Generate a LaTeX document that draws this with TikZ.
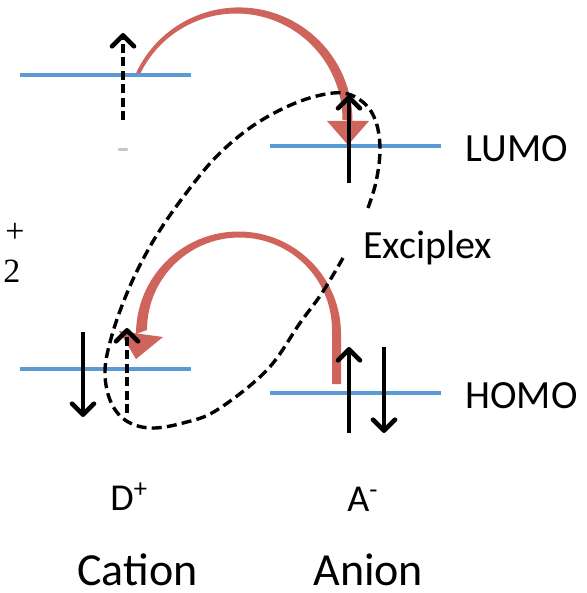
\documentclass[tikz,border=0pt]{standalone}
\usepackage{fontspec}
\setmainfont{Carlito}
\newfontfamily\timesfont{Liberation Serif}
\usepackage{tikz}
\usetikzlibrary{arrows.meta,calc}
\definecolor{levelblue}{RGB}{91,155,213}
\definecolor{ctred}{RGB}{207,100,92}

\begin{document}
\begin{tikzpicture}[x=0.5pt,y=-0.5pt,>={Straight Barb[length=5.5pt,width=11pt,round]},
  level/.style={levelblue,line width=2pt},
  spin/.style={line width=2.3pt,->},
  spindash/.style={spin,dash pattern=on 4.5pt off 2.2pt},
  exloop/.style={line width=1.7pt,dash pattern=on 5pt off 2.6pt},
  lbl/.style={inner sep=0pt,anchor=base west,font=\fontsize{20pt}{24pt}\selectfont},
  ionlbl/.style={lbl,font=\fontsize{19pt}{23pt}\selectfont},
  bigLbl/.style={lbl,font=\fontsize{23pt}{28pt}\selectfont}]
\useasboundingbox (0,0) rectangle (587,593);
% ---- charge-transfer arrows (tapered, red) ----
% upper: D LUMO -> A LUMO
\fill[ctred] (135.3,74.8) arc[start angle=-156,end angle=0,radius=113.5]
  -- (342.5,119.9) arc[start angle=0,end angle=-156,radius=106.4] -- cycle;
\fill[ctred] (327,121) -- (369,121) -- (348,145) -- cycle;
% lower: A HOMO -> D HOMO
\fill[ctred] (341,384) -- (341,334) arc[start angle=0,end angle=-180,radius=102.5]
  -- (147,330) arc[start angle=-180,end angle=0,radius=92.5] -- (332,384) -- cycle;
\fill[ctred] (119,331) -- (163,337) -- (136,359) -- cycle;
% ---- energy levels ----
\coordinate (dLumoL) at (20,75);  \coordinate (dLumoR) at (191,75);
\coordinate (aLumoL) at (270,146); \coordinate (aLumoR) at (441,146);
\coordinate (dHomoL) at (20,369); \coordinate (dHomoR) at (191,369);
\coordinate (aHomoL) at (270,393); \coordinate (aHomoR) at (441,393);
\draw[level] (dLumoL) -- (dLumoR);
\draw[level] (aLumoL) -- (aLumoR);
\draw[level] (dHomoL) -- (dHomoR);
\draw[level] (aHomoL) -- (aHomoR);
% ---- exciplex loop (open at the label) ----
\draw[exloop] plot[smooth,tension=0.6] coordinates {
  (368,208) (376,182) (380,150) (376,122) (364,103) (343,93) (313,97)
  (280,110) (247,130) (215,158) (187,192) (160,230) (140,265) (125,298)
  (112,335) (105,370) (110,400) (125,420) (150,428) (183,423) (217,410)
  (267,370) (300,323) (322,293) (343,258)};
% ---- spins ----
\draw[spindash] (123,120) -- (123,33);
\draw[gray!45,line width=1.5pt,line cap=round] (119,150) -- (127,150);
\draw[spin] (349,183) -- (349,95);
\draw[spin] (83,332) -- (83,417);
\draw[spindash] (127,413) -- (127,328);
\draw[spin] (349,433) -- (349,347);
\draw[spin] (384,347) -- (384,433);
% ---- labels ----
\node[lbl] (lumo) at (465,162) {LUMO};
\node[lbl] (homo) at (465,408) {HOMO};
\node[lbl] (exciplex) at (363,258) {Exciplex};
\node[ionlbl] (dplus) at (110,510) {D\textsuperscript{+}};
\node[ionlbl] (aminus) at (347,511) {A\textsuperscript{-}};
\node[bigLbl] (cation) at (77,585) {Cation};
\node[bigLbl] (anion) at (313,585) {Anion};
\node[inner sep=0pt,font=\timesfont\fontsize{17pt}{20pt}\selectfont] (plus) at (15,233) {+};
\node[inner sep=0pt,anchor=base west,font=\timesfont\fontsize{17pt}{20pt}\selectfont] (two) at (3,282) {2};
\end{tikzpicture}
\end{document}
